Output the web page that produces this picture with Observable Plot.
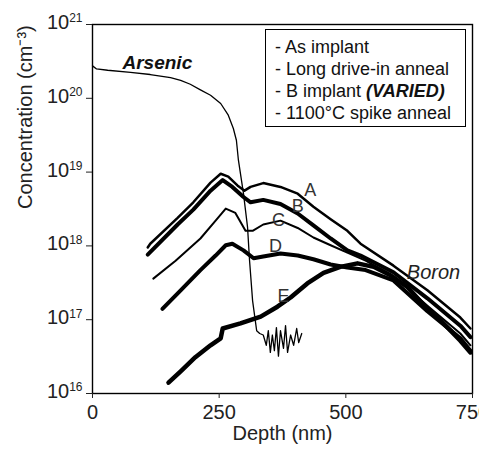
<!DOCTYPE html>
<html><head><meta charset="utf-8">
<script src="https://cdn.jsdelivr.net/npm/d3@7"></script>
<script src="https://cdn.jsdelivr.net/npm/@observablehq/plot@0.6"></script>
<style>
body{margin:0;background:#fff;}
#wrap{position:relative;width:479px;height:450px;font-family:"Liberation Sans",Arial,sans-serif;}
#legend{position:absolute;left:265px;top:29px;width:201px;height:98px;box-sizing:border-box;border:1.5px solid #000;background:#fff;padding:6px 0 0 9px;font-size:18px;line-height:22px;color:#111;white-space:nowrap;}
#legend b{font-style:italic;}
</style></head>
<body><div id="wrap"><div id="legend">
<div>- As implant</div>
<div>- Long drive-in anneal</div>
<div>- B implant <b>(VARIED)</b></div>
<div>- 1100°C spike anneal</div>
</div></div>
<script>
// Depth (nm) and concentration (cm^-3)
const arsenicDepth = [0,8,30,75,114,154,174,193,213,233,253,268,278,284,288,298,306,310,316,324,330,337,343,347,351,355,359,363,367,371,377,381,385,391,397,403,407,413];
const arsenicConc = [2.75e20,2.5e20,2.4e20,2.25e20,2.1e20,1.9e20,1.75e20,1.55e20,1.3e20,1.1e20,8.5e19,5.9e19,3.9e19,2.7e19,1.45e19,5.1e18,1.8e18,6.3e17,1.8e17,7.1e16,6.5e16,6.2e16,4.5e16,7.1e16,3.6e16,6.2e16,3.8e16,7.8e16,3.2e16,7.1e16,4.1e16,8.3e16,3.6e16,6.2e16,4.5e16,7.6e16,4.9e16,6.5e16];

const depthA = [109,114,168,199,233,253,268,286,300,312,337,371,405,436,470,503,529,594,661,726,746];
const concA = [9.5e17,1.07e18,2.4e18,3.9e18,7.2e18,9.5e18,8.7e18,6.6e18,5.6e18,6.3e18,7.1e18,6.3e18,5.1e18,3.4e18,2.3e18,1.6e18,1.07e18,5.4e17,2.5e17,1.07e17,7.6e16];

const depthB = [109,168,199,233,257,276,298,312,337,371,405,436,470,503,529,594,661,726,746];
const concB = [7.6e17,1.95e18,3.1e18,5.6e18,7.8e18,6.3e18,4.6e18,3.9e18,4.2e18,3.7e18,2.75e18,1.9e18,1.26e18,8.7e17,7.4e17,4.4e17,1.95e17,8.3e16,5.8e16];

const depthC = [120,164,213,243,263,282,302,316,337,371,405,436,470,503,539,594,661,726,746];
const concC = [3.6e17,6.3e17,1.26e18,2.2e18,3.2e18,2.8e18,1.6e18,1.6e18,1.95e18,2.2e18,1.75e18,1.3e18,1.02e18,8.1e17,6.3e17,3.9e17,1.55e17,6.5e16,4.5e16];

const depthD = [138,174,213,243,263,276,298,318,337,371,405,436,470,503,539,594,661,726,746];
const concD = [1.4e17,2.5e17,4.7e17,7.4e17,1.02e18,1.07e18,8.7e17,6.8e17,7.2e17,7.9e17,7.4e17,6.6e17,5.6e17,5.1e17,4.7e17,3.4e17,1.3e17,5.6e16,3.8e16];

const depthE = [150,174,203,233,253,257,292,332,365,391,424,456,489,523,555,588,622,661,687,726,746];
const concE = [1.4e16,2.0e16,3.1e16,4.5e16,5.6e16,7.6e16,8.9e16,1.1e17,1.5e17,2.0e17,3.1e17,4.3e17,5.2e17,5.8e17,5.2e17,4.0e17,2.75e17,1.4e17,9.8e16,5.2e16,3.6e16];

const curveNames = ["Arsenic","A","B","C","D","E"];
const curveWidths = [1.3,2.5,4,2,4,4.5];

const labelText = ["Arsenic","Boron","A","B","C","D","E"];
const labelDepth = [128,673,430,405,367,361,377];
const labelConc = [3.05e20,4.4e17,5.6e18,3.5e18,2.2e18,1.0e18,2.1e17];

const xTicks = [0,250,500,750];
const yTicks = [1e16,1e17,1e18,1e19,1e20,1e21];

const series = [[arsenicDepth,arsenicConc],[depthA,concA],[depthB,concB],[depthC,concC],[depthD,concD],[depthE,concE]];
const lineMarks = series.map(([xs,ys],i) => Plot.line(xs.map((x,j)=>({depth:x,conc:ys[j]})), {x:"depth", y:"conc", stroke:"#000", strokeWidth:curveWidths[i], strokeLinejoin:"round", strokeLinecap:"round"}));
const labels = labelText.map((t,i)=>({t, depth:labelDepth[i], conc:labelConc[i]}));

const font = '"Liberation Sans",Arial,sans-serif';
const chart = Plot.plot({
  width:479, height:450,
  marginLeft:92, marginRight:7, marginTop:24, marginBottom:57,
  style:{fontFamily:font, fontSize:"20px", color:"#222", background:"#fff"},
  x:{domain:[0,750]},
  y:{type:"log", domain:[1e16,1e21]},
  marks:[
    Plot.frame({stroke:"#000", strokeWidth:1.4}),
    ...lineMarks,
    Plot.axisX({ticks:xTicks, tickSize:5, tickPadding:6, label:null, fontSize:20, tickFormat:d=>String(d)}),
    Plot.axisY({ticks:yTicks, tickSize:6, tickPadding:4, label:null, fontSize:20, tickFormat:d=>"10^"+Math.round(Math.log10(d))}),
    Plot.text(["Depth (nm)"], {frameAnchor:"bottom", dy:46, fontSize:20, fill:"#222"}),
    Plot.text(["Concentration (cm⁻³)"], {frameAnchor:"left", dx:-67, rotate:-90, fontSize:20, fill:"#222"}),
    Plot.text(labels.filter(d=>d.t==="Arsenic"), {x:"depth", y:"conc", text:"t", fontSize:19, fontStyle:"italic", fontWeight:"bold", fill:"#111"}),
    Plot.text(labels.filter(d=>d.t==="Boron"), {x:"depth", y:"conc", text:"t", fontSize:20, fontStyle:"italic", fill:"#222"}),
    Plot.text(labels.filter(d=>d.t.length===1), {x:"depth", y:"conc", text:"t", fontSize:18, fill:"#333"})
  ]
});
d3.select(chart).selectAll('g[aria-label="y-axis tick label"] text').each(function(){
  const [b,e] = this.textContent.split("^");
  const s = d3.select(this);
  s.text("").attr("dy", null);
  s.append("tspan").attr("dy","-0.1em").text(b);
  s.append("tspan").attr("font-size","12px").attr("dy","-0.55em").text(e);
});
document.getElementById("wrap").prepend(chart);
</script></body></html>
